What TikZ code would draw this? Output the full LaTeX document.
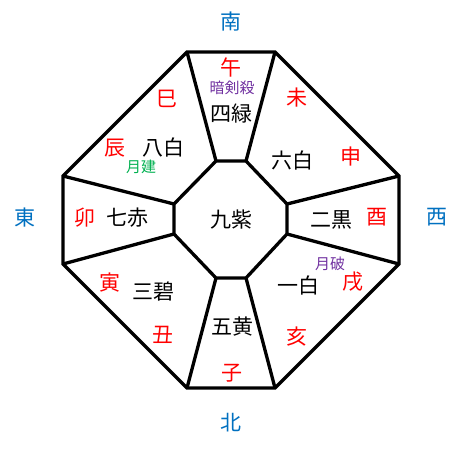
\documentclass[tikz,border=0pt]{standalone}
\usepackage{fontspec}
\newfontfamily\jp{Noto Sans CJK JP}
\definecolor{dirblue}{RGB}{0,112,192}
\definecolor{zred}{RGB}{255,0,0}
\definecolor{purp}{RGB}{112,48,160}
\definecolor{grn}{RGB}{0,176,80}
\begin{document}
\begin{tikzpicture}[x=1pt,y=-1pt,
  edge/.style={line width=3.3pt,line join=miter},
  dirlbl/.style={text=dirblue,font=\jp\fontsize{21}{21}\selectfont,inner sep=0pt},
  zod/.style={text=zred,font=\jp\fontsize{21}{21}\selectfont,inner sep=0pt},
  star/.style={text=black,font=\jp\fontsize{21}{21}\selectfont,inner sep=0pt},
  note/.style={font=\jp\fontsize{15}{15}\selectfont,inner sep=0pt}]
\useasboundingbox (0,0) rectangle (462,449);
% outer vertices
\coordinate (O1) at (187,52);
\coordinate (O2) at (275,52);
\coordinate (O3) at (399,176);
\coordinate (O4) at (399,264);
\coordinate (O5) at (275,388);
\coordinate (O6) at (187,388);
\coordinate (O7) at (63,264);
\coordinate (O8) at (63,176);
% inner vertices
\coordinate (I1) at (216,161);
\coordinate (I2) at (246,161);
\coordinate (I3) at (287,204);
\coordinate (I4) at (287,234);
\coordinate (I5) at (246,278);
\coordinate (I6) at (216,278);
\coordinate (I7) at (174,234);
\coordinate (I8) at (174,204);
\draw[edge] (O1)--(O2)--(O3)--(O4)--(O5)--(O6)--(O7)--(O8)--cycle;
\draw[edge] (I1)--(I2)--(I3)--(I4)--(I5)--(I6)--(I7)--(I8)--cycle;
\foreach \i in {1,...,8}{\draw[edge] (I\i)--(O\i);}
% directions
\node[dirlbl] (s) at (231,22) {南};
\node[dirlbl] (n) at (231,423) {北};
\node[dirlbl] (e) at (25,218) {東};
\node[dirlbl] (w) at (437,217) {西};
% zodiac
\node[zod] (z1) at (231,68) {午};
\node[zod] (z2) at (297,98) {未};
\node[zod] (z3) at (351,157) {申};
\node[zod] (z4) at (377,217) {酉};
\node[zod] (z5) at (353,282) {戌};
\node[zod] (z6) at (297,337) {亥};
\node[zod] (z7) at (232,373) {子};
\node[zod] (z8) at (163,335) {丑};
\node[zod] (z9) at (110,283) {寅};
\node[zod] (z10) at (85,218) {卯};
\node[zod] (z11) at (115,148) {辰};
\node[zod] (z12) at (167,99) {巳};
% stars
\node[star] (c) at (231,220) {九紫};
\node[star] (s4) at (231,114) {四緑};
\node[star] (s6) at (292,160) {六白};
\node[star] (s2) at (331,220) {二黒};
\node[star] (s1) at (298,285) {一白};
\node[star] (s5) at (232,327) {五黄};
\node[star] (s3) at (153,292) {三碧};
\node[star] (s7) at (127,218) {七赤};
\node[star] (s8) at (163,148) {八白};
% notes
\node[note,text=purp] (a1) at (232,88) {暗剣殺};
\node[note,text=purp] (a2) at (330,264) {月破};
\node[note,text=grn] (a3) at (141,167) {月建};
\end{tikzpicture}
\end{document}
